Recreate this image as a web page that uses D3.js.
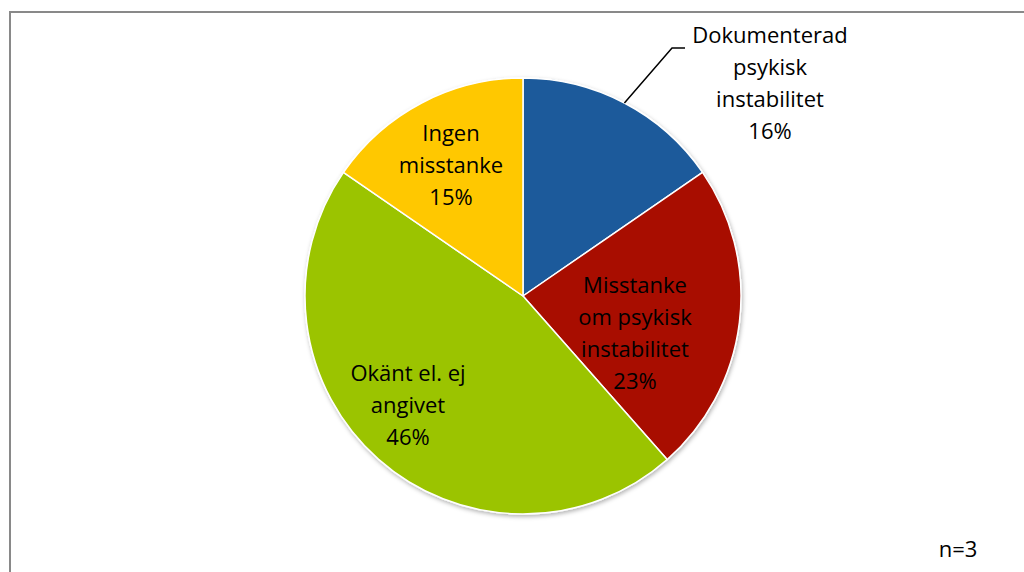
<!DOCTYPE html>
<html>
<head>
<meta charset="utf-8">
<script src="https://cdn.jsdelivr.net/npm/d3@7"></script>
<style>
  html, body { margin: 0; padding: 0; background: #fff; }
  svg { display: block; }
</style>
</head>
<body>
<div id="okvir"></div>
<script>
// kategorije i vrijednosti (udjeli procitani iz kutova na slici)
const kategorije = [
  ["Dokumenterad", "psykisk", "instabilitet"],
  ["Misstanke", "om psykisk", "instabilitet"],
  ["Okänt el. ej", "angivet"],
  ["Ingen", "misstanke"]
]
const vrijednosti = [15.4, 23.1, 46.1, 15.4]
const postoci = ["16%", "23%", "46%", "15%"]
const boje = ["#1A5A9B", "#A80D00", "#9BC400", "#FFC800"]
const biljeska = "n=3"

const dimenzije = {
  sirina: 1024,
  visina: 572,
  cx: 523,
  cy: 296,
  radijus: 218
}

const okvir = d3.select("#okvir")
  .append("svg")
  .attr("width", dimenzije.sirina)
  .attr("height", dimenzije.visina)
  .style("font-family", "'Open Sans', sans-serif")

// sivi rub oko grafa
okvir.append("rect")
  .attr("x", 10)
  .attr("y", 12)
  .attr("width", 1040)
  .attr("height", 600)
  .attr("fill", "none")
  .attr("stroke", "#898989")
  .attr("stroke-width", 2)

const defs = okvir.append("defs")
const sjena = defs.append("filter").attr("id", "sjena")
  .attr("x", "-10%").attr("y", "-10%").attr("width", "120%").attr("height", "120%")
sjena.append("feDropShadow")
  .attr("dx", 1).attr("dy", 2).attr("stdDeviation", 2)
  .attr("flood-color", "#000").attr("flood-opacity", 0.3)

const granice = okvir.append("g")
  .attr("transform", `translate(${dimenzije.cx}, ${dimenzije.cy})`)

const pieGen = d3.pie().sort(null).value(d => d)
const luk = d3.arc().innerRadius(0).outerRadius(dimenzije.radijus)
const kriske = pieGen(vrijednosti)

granice.append("g")
  .attr("filter", "url(#sjena)")
  .selectAll("path")
  .data(kriske)
  .join("path")
    .attr("d", luk)
    .attr("fill", (d, i) => boje[i])
    .attr("stroke", "#fff")
    .attr("stroke-width", 1.5)
    .attr("stroke-linejoin", "round")

// pozicije oznaka (relativno prema sredistu, prva linija teksta)
const oznakaPoz = [
  { x: 247, y: -253 },
  { x: 112, y: -3 },
  { x: -115, y: 85 },
  { x: -72, y: -155 }
]
const razmak = 32

kriske.forEach((d, i) => {
  const linije = kategorije[i].concat([postoci[i]])
  const t = granice.append("text")
    .attr("text-anchor", "middle")
    .attr("font-size", 22)
    .attr("fill", "#000")
  linije.forEach((l, j) => {
    t.append("tspan")
      .attr("x", oznakaPoz[i].x)
      .attr("y", oznakaPoz[i].y + j * razmak)
      .text(l)
  })
})

// linija do oznake za prvu krisku
const a0 = (kriske[0].startAngle + kriske[0].endAngle) / 2
const tocka = [Math.sin(a0) * dimenzije.radijus, -Math.cos(a0) * dimenzije.radijus]
granice.append("polyline")
  .attr("points", [tocka, [149, -248], [162, -248]].map(p => p.join(",")).join(" "))
  .attr("fill", "none")
  .attr("stroke", "#000")
  .attr("stroke-width", 1.5)

okvir.append("text")
  .attr("x", 958)
  .attr("y", 557)
  .attr("text-anchor", "middle")
  .attr("font-size", 22)
  .text(biljeska)
</script>
</body>
</html>
